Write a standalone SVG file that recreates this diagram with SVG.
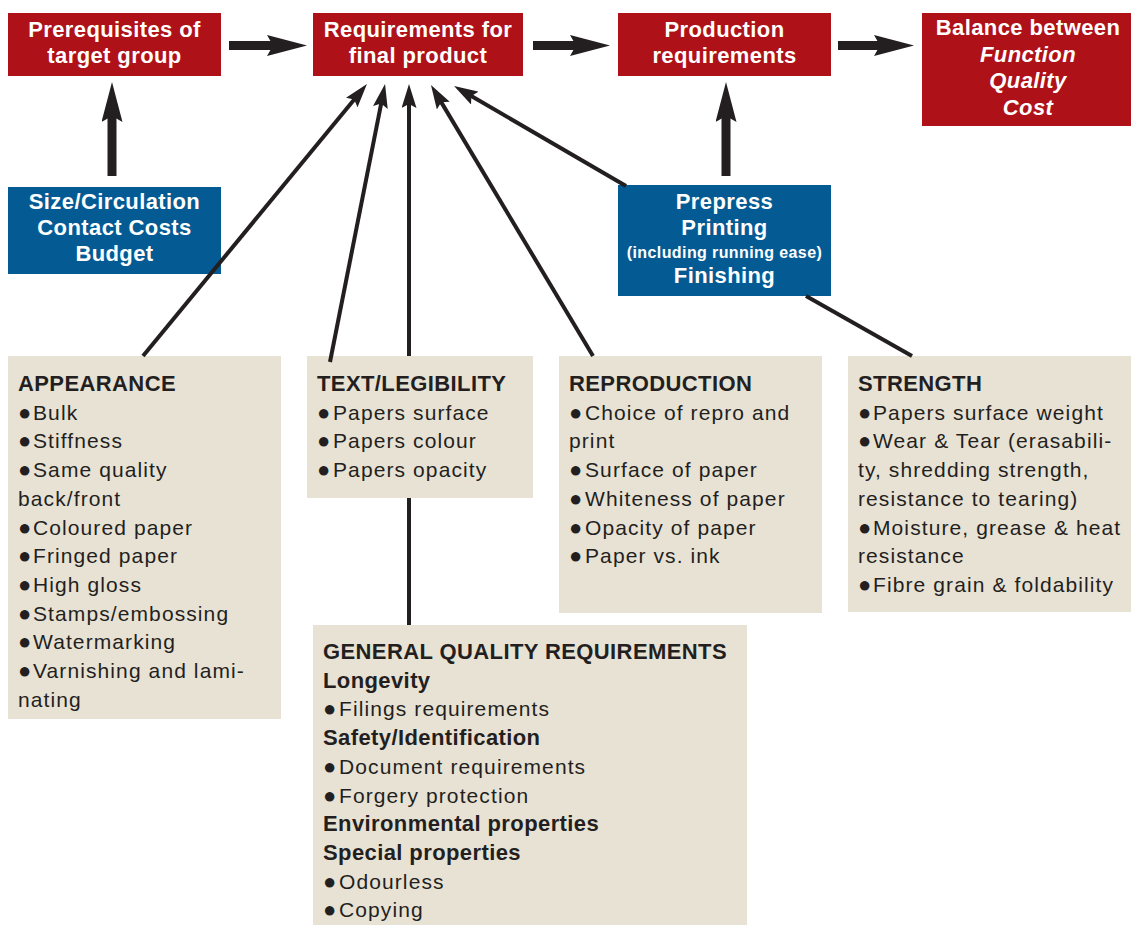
<svg xmlns="http://www.w3.org/2000/svg" width="1131" height="925" viewBox="0 0 1131 925">
<style>
.red{fill:#AF1118}
.blue{fill:#045B94}
.beige{fill:#E8E2D5}
.tw{font-family:"Liberation Sans",Arial,sans-serif;font-weight:bold;font-size:22px;letter-spacing:0.4px;fill:#fff;text-anchor:middle}
.ti{font-style:italic}
.sm{font-size:16px}
.h{font-family:"Liberation Sans",Arial,sans-serif;font-weight:bold;font-size:22px;letter-spacing:0.4px;fill:#231F20}
.b{font-family:"Liberation Sans",Arial,sans-serif;font-size:21px;letter-spacing:1.1px;fill:#231F20}
.bl{font-size:22px;letter-spacing:0}
.thin{stroke:#231F20;stroke-width:4;fill:none}
.thick{stroke:#231F20;stroke-width:9;fill:none}
</style>
<defs>
<marker id="ah" markerUnits="userSpaceOnUse" markerWidth="24" markerHeight="15" refX="14" refY="7.5" orient="auto">
<path d="M0,0 L24,7.5 L0,15 L4,7.5 Z" fill="#231F20"/>
</marker>
<marker id="AH" markerUnits="userSpaceOnUse" markerWidth="40" markerHeight="21" refX="20" refY="10.5" orient="auto">
<path d="M0,0 L40,10.5 L0,21 L6,10.5 Z" fill="#231F20"/>
</marker>
</defs>
<rect width="1131" height="925" fill="#fff"/>

<g id="prereq">
<rect class="red" x="8" y="13" width="213" height="63"/>
<text class="tw" x="114.5" y="37">Prerequisites of</text>
<text class="tw" x="114.5" y="63">target group</text>
</g>
<g id="reqfinal">
<rect class="red" x="313" y="13" width="210" height="63"/>
<text class="tw" x="418" y="37">Requirements for</text>
<text class="tw" x="418" y="63">final product</text>
</g>
<g id="prodreq">
<rect class="red" x="618" y="13" width="213" height="63"/>
<text class="tw" x="724.5" y="37">Production</text>
<text class="tw" x="724.5" y="63">requirements</text>
</g>
<g id="balance">
<rect class="red" x="922" y="13" width="209" height="113"/>
<text class="tw" x="1028" y="35">Balance between</text>
<text class="tw ti" x="1028" y="61.5">Function</text>
<text class="tw ti" x="1028" y="88">Quality</text>
<text class="tw ti" x="1028" y="114.5">Cost</text>
</g>
<g id="size">
<rect class="blue" x="8" y="187" width="213" height="87"/>
<text class="tw" x="114.5" y="209">Size/Circulation</text>
<text class="tw" x="114.5" y="235">Contact Costs</text>
<text class="tw" x="114.5" y="261">Budget</text>
</g>
<g id="prepress">
<rect class="blue" x="618" y="185" width="213" height="111"/>
<text class="tw" x="724.5" y="209">Prepress</text>
<text class="tw" x="724.5" y="235">Printing</text>
<text class="tw sm" x="724.5" y="258">(including running ease)</text>
<text class="tw" x="724.5" y="283">Finishing</text>
</g>

<g id="appearance">
<rect class="beige" x="8" y="356" width="273" height="363"/>
<text class="h" x="18" y="391">APPEARANCE</text>
<text class="b" x="18" y="419.7"><tspan class="bl">●</tspan><tspan x="33">Bulk</tspan></text>
<text class="b" x="18" y="448.4"><tspan class="bl">●</tspan><tspan x="33">Stiffness</tspan></text>
<text class="b" x="18" y="477.1"><tspan class="bl">●</tspan><tspan x="33">Same quality</tspan></text>
<text class="b" x="18" y="505.8">back/front</text>
<text class="b" x="18" y="534.5"><tspan class="bl">●</tspan><tspan x="33">Coloured paper</tspan></text>
<text class="b" x="18" y="563.2"><tspan class="bl">●</tspan><tspan x="33">Fringed paper</tspan></text>
<text class="b" x="18" y="591.9"><tspan class="bl">●</tspan><tspan x="33">High gloss</tspan></text>
<text class="b" x="18" y="620.6"><tspan class="bl">●</tspan><tspan x="33">Stamps/embossing</tspan></text>
<text class="b" x="18" y="649.3"><tspan class="bl">●</tspan><tspan x="33">Watermarking</tspan></text>
<text class="b" x="18" y="678"><tspan class="bl">●</tspan><tspan x="33">Varnishing and lami-</tspan></text>
<text class="b" x="18" y="706.7">nating</text>
</g>
<g id="legibility">
<rect class="beige" x="307" y="356" width="226" height="142"/>
<text class="h" x="317" y="391">TEXT/LEGIBILITY</text>
<text class="b" x="317" y="419.7"><tspan class="bl">●</tspan><tspan x="333">Papers surface</tspan></text>
<text class="b" x="317" y="448.4"><tspan class="bl">●</tspan><tspan x="333">Papers colour</tspan></text>
<text class="b" x="317" y="477.1"><tspan class="bl">●</tspan><tspan x="333">Papers opacity</tspan></text>
</g>
<g id="reproduction">
<rect class="beige" x="559" y="356" width="263" height="257"/>
<text class="h" x="569" y="391">REPRODUCTION</text>
<text class="b" x="569" y="419.7"><tspan class="bl">●</tspan><tspan x="585">Choice of repro and</tspan></text>
<text class="b" x="569" y="448.4">print</text>
<text class="b" x="569" y="477.1"><tspan class="bl">●</tspan><tspan x="585">Surface of paper</tspan></text>
<text class="b" x="569" y="505.8"><tspan class="bl">●</tspan><tspan x="585">Whiteness of paper</tspan></text>
<text class="b" x="569" y="534.5"><tspan class="bl">●</tspan><tspan x="585">Opacity of paper</tspan></text>
<text class="b" x="569" y="563.2"><tspan class="bl">●</tspan><tspan x="585">Paper vs. ink</tspan></text>
</g>
<g id="strength">
<rect class="beige" x="848" y="356" width="283" height="256"/>
<text class="h" x="858" y="391">STRENGTH</text>
<text class="b" x="858" y="419.7"><tspan class="bl">●</tspan><tspan x="873">Papers surface weight</tspan></text>
<text class="b" x="858" y="448.4"><tspan class="bl">●</tspan><tspan x="873">Wear &amp; Tear (erasabili-</tspan></text>
<text class="b" x="858" y="477.1">ty, shredding strength,</text>
<text class="b" x="858" y="505.8">resistance to tearing)</text>
<text class="b" x="858" y="534.5"><tspan class="bl">●</tspan><tspan x="873">Moisture, grease &amp; heat</tspan></text>
<text class="b" x="858" y="563.2">resistance</text>
<text class="b" x="858" y="591.9"><tspan class="bl">●</tspan><tspan x="873">Fibre grain &amp; foldability</tspan></text>
</g>
<g id="general">
<rect class="beige" x="313" y="625" width="434" height="300"/>
<text class="h" x="323" y="659">GENERAL QUALITY REQUIREMENTS</text>
<text class="h" x="323" y="687.7">Longevity</text>
<text class="b" x="323" y="716.4"><tspan class="bl">●</tspan><tspan x="339">Filings requirements</tspan></text>
<text class="h" x="323" y="745.1">Safety/Identification</text>
<text class="b" x="323" y="773.8"><tspan class="bl">●</tspan><tspan x="339">Document requirements</tspan></text>
<text class="b" x="323" y="802.5"><tspan class="bl">●</tspan><tspan x="339">Forgery protection</tspan></text>
<text class="h" x="323" y="831.2">Environmental properties</text>
<text class="h" x="323" y="859.9">Special properties</text>
<text class="b" x="323" y="888.6"><tspan class="bl">●</tspan><tspan x="339">Odourless</tspan></text>
<text class="b" x="323" y="917.3"><tspan class="bl">●</tspan><tspan x="339">Copying</tspan></text>
</g>

<g id="connectors">
<line class="thick" x1="229" y1="45.5" x2="287" y2="45.5" marker-end="url(#AH)"/>
<line class="thick" x1="533" y1="45.5" x2="590" y2="45.5" marker-end="url(#AH)"/>
<line class="thick" x1="838" y1="45.5" x2="894" y2="45.5" marker-end="url(#AH)"/>
<line class="thick" x1="112" y1="176" x2="112" y2="102" marker-end="url(#AH)"/>
<line class="thick" x1="726" y1="176" x2="726" y2="102" marker-end="url(#AH)"/>
<line class="thin" x1="143" y1="356" x2="360.6" y2="91.7" marker-end="url(#ah)"/>
<line class="thin" x1="330" y1="362" x2="383.1" y2="93.8" marker-end="url(#ah)"/>
<line class="thin" x1="409" y1="356" x2="409" y2="94" marker-end="url(#ah)"/>
<line class="thin" x1="593" y1="356" x2="436.1" y2="93.6" marker-end="url(#ah)"/>
<line class="thin" x1="626" y1="186" x2="462.7" y2="91" marker-end="url(#ah)"/>
<line class="thin" x1="806" y1="296" x2="912" y2="356"/>
<line class="thin" x1="409" y1="498" x2="409" y2="625"/>
</g>
</svg>
